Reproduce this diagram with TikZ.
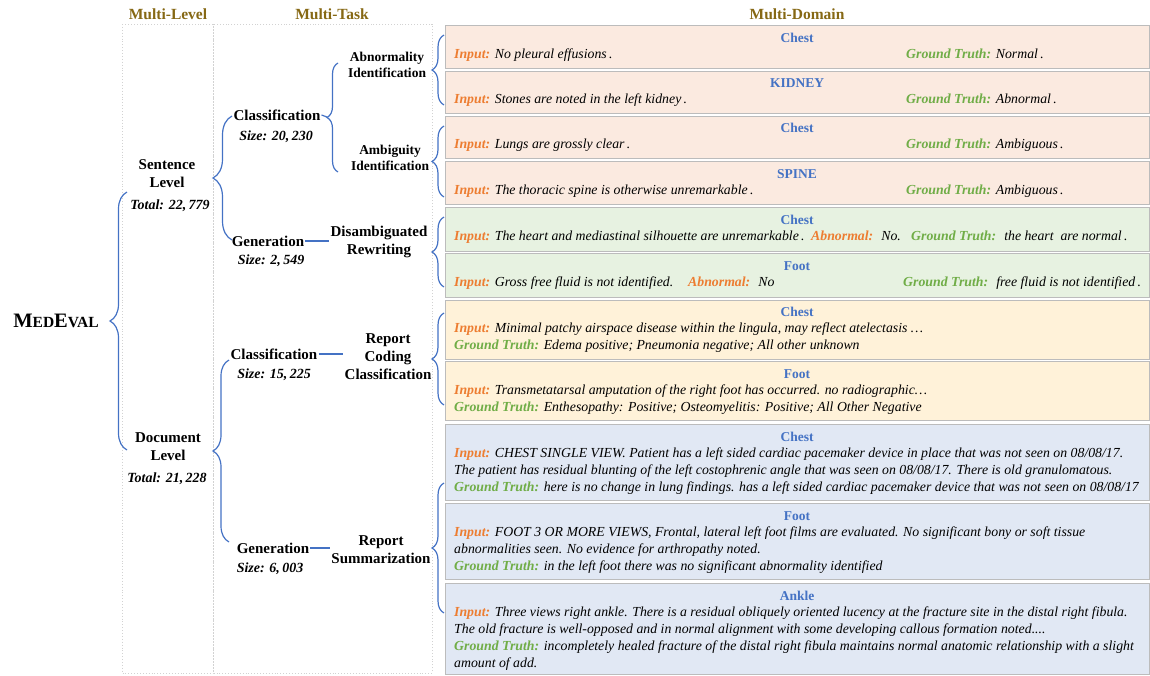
\documentclass[tikz,border=0pt]{standalone}
\usepackage{fontspec}
\setmainfont{Liberation Serif}
\usepackage{xcolor}
\usepackage{tikz}
\usetikzlibrary{positioning,decorations.pathreplacing}
\definecolor{medblue}{RGB}{68,114,196}
\definecolor{inorange}{RGB}{237,125,49}
\definecolor{gtgreen}{RGB}{112,173,71}
\definecolor{hdrgold}{RGB}{134,104,20}
\definecolor{peach}{RGB}{251,234,224}
\definecolor{mint}{RGB}{231,242,225}
\definecolor{cream}{RGB}{255,242,217}
\definecolor{lavb}{RGB}{225,232,244}
\definecolor{boxgray}{RGB}{188,188,188}
\newcommand{\inlab}{{\bfseries\color{inorange}Input:}}
\newcommand{\gtlab}{{\bfseries\color{gtgreen}Ground Truth:}}
\newcommand{\ablab}{{\bfseries\color{inorange}Abnormal:}}

\begin{document}
\begin{tikzpicture}[
	x=1pt, y=-1pt,
	hdr/.style={ % tieu de cot
		font=\fontsize{15.5}{18}\selectfont\bfseries,
		text=hdrgold, inner sep=0pt
	},
	lvl/.style={
		font=\fontsize{15}{18}\selectfont\bfseries,
		align=center, inner sep=1pt
	},
	sub/.style={
		font=\fontsize{13.5}{16}\selectfont\bfseries,
		align=center, inner sep=1pt
	},
	cnt/.style={
		font=\fontsize{14}{16}\selectfont\bfseries\itshape,
		inner sep=0pt
	},
	col/.style={draw=gray!35, dotted, line width=0.9pt},
	dbox/.style={ % khung vi du
		draw=boxgray, line width=1.3pt,
		minimum width=704pt, anchor=north west, inner sep=0pt
	},
	ttl/.style={
		font=\fontsize{13.5}{16}\selectfont\bfseries,
		text=medblue, anchor=base, inner sep=0pt
	},
	ln/.style={
		font=\fontsize{13.8}{17}\selectfont\itshape,
		anchor=base west, inner sep=0pt
	},
	brc/.style={
		decorate, decoration={brace, amplitude=#1},
		draw=medblue, line width=1.2pt
	},
	link/.style={draw=medblue, line width=1.2pt}
	]
	\useasboundingbox (0,0) rectangle (1150,675);
	
	% ================= HEADERS =================
	\node[hdr] (hLevel) at (168,14) {Multi-Level};
	\node[hdr] (hTask) at (332,14) {Multi-Task};
	\node[hdr] (hDomain) at (797,14) {Multi-Domain};
	\draw[col] (122,24) rectangle (213,673);
	\draw[col] (213,24) rectangle (432,673);
	
	% ================= DOMAIN BOXES =================
	\foreach \yy/\hh/\fc/\nm in {25/42.5/peach/b1, 70.5/42/peach/b2, 115.5/42.5/peach/b3,
		161/42.5/peach/b4, 207/44/mint/b5, 253/44/mint/b6, 299.5/59/cream/b7,
		361/59/cream/b8, 424/76/lavb/b9, 503/76/lavb/b10, 583/91/lavb/b11} {
		\node[dbox, fill=\fc, minimum height=\hh] (\nm) at (445,\yy) {};
	}
	\foreach \nm/\yy/\dom in {b1/42/Chest, b2/87.5/KIDNEY, b3/132.5/Chest, b4/178/SPINE,
		b5/224/Chest, b6/270/Foot, b7/316.5/Chest, b8/378/Foot, b9/441/Chest,
		b10/520/Foot, b11/600/Ankle} {
		\node[ttl] (\nm-t) at (797,\yy) {\dom};
	}
	
	% Row 1-4: sentence classification
	\node[ln] (b1-1) at (454,58) {\inlab{} No pleural effusions\,.};
	\node[ln] (b1-g) at (906,58) {\gtlab{} Normal\,.};
	\node[ln] (b2-1) at (454,103.5) {\inlab{} Stones are noted in the left kidney\,.};
	\node[ln] (b2-g) at (906,103.5) {\gtlab{} Abnormal\,.};
	\node[ln] (b3-1) at (454,148.5) {\inlab{} Lungs are grossly clear\,.};
	\node[ln] (b3-g) at (906,148.5) {\gtlab{} Ambiguous\,.};
	\node[ln] (b4-1) at (454,194) {\inlab{} The thoracic spine is otherwise unremarkable\,.};
	\node[ln] (b4-g) at (906,194) {\gtlab{} Ambiguous\,.};
	
	% Row 5-6: rewriting
	\node[ln] (b5-1) at (454,240) {\inlab{} The heart and mediastinal silhouette are unremarkable\,.};
	\node[ln] (b5-a) at (811,240) {\ablab{}~ No.};
	\node[ln] (b5-g) at (911,240) {\gtlab{}~ the heart~ are normal\,.};
	\node[ln] (b6-1) at (454,286) {\inlab{} Gross free fluid is not identified.};
	\node[ln] (b6-a) at (688,286) {\ablab{}~ No};
	\node[ln] (b6-g) at (903,286) {\gtlab{}~ free fluid is not identified\,.};
	
	% Row 7-8: report coding
	\node[ln] (b7-1) at (454,332.5) {\inlab{} Minimal patchy airspace disease within the lingula, may reflect atelectasis \ldots};
	\node[ln] (b7-2) at (454,349.5) {\gtlab{} Edema positive; Pneumonia negative; All other unknown};
	\node[ln] (b8-1) at (454,394) {\inlab{} Transmetatarsal amputation of the right foot has occurred. no radiographic\ldots};
	\node[ln] (b8-2) at (454,411) {\gtlab{} Enthesopathy: Positive; Osteomyelitis: Positive; All Other Negative};
	
	% Row 9-11: summarization
	\node[ln] (b9-1) at (454,457) {\inlab{} CHEST SINGLE VIEW. Patient has a left sided cardiac pacemaker device in place that was not seen on 08/08/17.};
	\node[ln] (b9-2) at (454,474) {The patient has residual blunting of the left costophrenic angle that was seen on 08/08/17. There is old granulomatous.};
	\node[ln] (b9-3) at (454,491) {\gtlab{} here is no change in lung findings. has a left sided cardiac pacemaker device that was not seen on 08/08/17};
	\node[ln] (b10-1) at (454,536) {\inlab{} FOOT 3 OR MORE VIEWS, Frontal, lateral left foot films are evaluated. No significant bony or soft tissue};
	\node[ln] (b10-2) at (454,553) {abnormalities seen. No evidence for arthropathy noted.};
	\node[ln] (b10-3) at (454,570) {\gtlab{} in the left foot there was no significant abnormality identified};
	\node[ln] (b11-1) at (454,616) {\inlab{} Three views right ankle. There is a residual obliquely oriented lucency at the fracture site in the distal right fibula.};
	\node[ln] (b11-2) at (454,633) {The old fracture is well-opposed and in normal alignment with some developing callous formation noted....};
	\node[ln] (b11-3) at (454,650) {\gtlab{} incompletely healed fracture of the distal right fibula maintains normal anatomic relationship with a slight};
	\node[ln] (b11-4) at (454,667) {amount of add.};
	
	% ================= TREE =================
	\node[font=\bfseries, inner sep=1pt] (root) at (56,321) {{\fontsize{20.5}{22}\selectfont M}{\fontsize{15.5}{18}\selectfont ED}{\fontsize{20.5}{22}\selectfont E}{\fontsize{15.5}{18}\selectfont VAL}};
	
	\node[lvl] (sent) at (167,174) {Sentence\\Level};
	\node[cnt] (sentTot) at (170,206) {Total: 22,\,779};
	\node[lvl] (doc) at (168,447) {Document\\Level};
	\node[cnt] (docTot) at (167,479) {Total: 21,\,228};
	
	\node[lvl] (cls1) at (277,115) {Classification};
	\node[cnt] (cls1Sz) at (276,137) {Size: 20,\,230};
	\node[lvl] (gen1) at (268,241) {Generation};
	\node[cnt] (gen1Sz) at (271,261) {Size: 2,\,549};
	\node[lvl] (cls2) at (274,354) {Classification};
	\node[cnt] (cls2Sz) at (274,375) {Size: 15,\,225};
	\node[lvl] (gen2) at (273,548) {Generation};
	\node[cnt] (gen2Sz) at (270,569) {Size: 6,\,003};
	
	\node[sub] (abn) at (387,65) {Abnormality\\Identification};
	\node[sub] (amb) at (390,158) {Ambiguity\\Identification};
	\node[lvl] (rew) at (379,242) {Disambiguated\\Rewriting};
	\node[lvl] (rcc) at (388,357) {Report\\Coding\\Classification};
	\node[lvl] (rsum) at (381,550) {Report\\Summarization};
	
	% brace end points
	\coordinate (rootA) at (127,450); \coordinate (rootB) at (127,192);
	\coordinate (sentA) at (232,240); \coordinate (sentB) at (232,116);
	\coordinate (docA) at (229,542);  \coordinate (docB) at (229,360);
	\coordinate (clsA) at (338,172);  \coordinate (clsB) at (338,63);
	\coordinate (clsTip) at (327,117);
	\coordinate (abnA) at (444,105);  \coordinate (abnB) at (444,35);
	\coordinate (ambA) at (444,197);  \coordinate (ambB) at (444,126);
	\coordinate (rewA) at (444,287);  \coordinate (rewB) at (444,217);
	\coordinate (rccA) at (444,405);  \coordinate (rccB) at (444,313);
	\coordinate (rsA) at (444,613);   \coordinate (rsB) at (444,483);
	
	\draw[brc=17pt] (rootA) -- (rootB);
	\draw[brc=19pt] (sentA) -- (sentB);
	\draw[brc=16pt] (docA) -- (docB);
	\draw[brc=11pt] (clsA) -- (clsB);
	\draw[link] (cls1.east) -- (clsTip);
	\foreach \nm in {abn, amb, rew, rcc, rs} {
		\draw[brc=12pt] (\nm A) -- (\nm B);
	}
	
	% Generation / Classification -> task
	\draw[link] (gen1.east) -- (rew.west |- gen1.east);
	\draw[link] (cls2.east) -- (rcc.west |- cls2.east);
	\draw[link] (gen2.east) -- (rsum.west |- gen2.east);
	
\end{tikzpicture}
\end{document}
